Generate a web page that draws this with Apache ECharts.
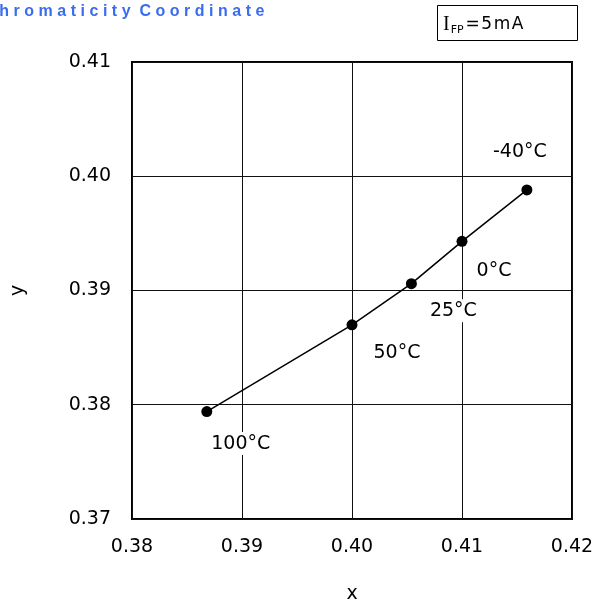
<!DOCTYPE html>
<html>
<head>
<meta charset="utf-8">
<style>html,body{margin:0;padding:0;background:#fff;}#c{width:592px;height:607px;}</style>
<script src="https://cdn.jsdelivr.net/npm/echarts@6/dist/echarts.min.js"></script>
</head>
<body>
<div id="c"></div>
<script>
// Data
var temperatures = ['100°C', '50°C', '25°C', '0°C', '-40°C'];
var xValues = [0.3868, 0.4000, 0.4054, 0.4100, 0.4159];
var yValues = [0.3794, 0.3870, 0.3906, 0.3943, 0.3988];
var xTicks = [0.38, 0.39, 0.40, 0.41, 0.42];
var yTicks = [0.37, 0.38, 0.39, 0.40, 0.41];
var titleText = 'Chromaticity Coordinate';
var conditionValue = '=5mA';

// label placement (layout, not data)
var labelOffsets = [[34, 32], [45, 28], [42, 27], [32, 30], [-7, -38]];

var FONT = 'DejaVu Sans';
var chart = echarts.init(document.getElementById('c'));

var points = xValues.map(function (x, i) {
  return {
    value: [x, yValues[i]],
    name: temperatures[i],
    label: { offset: labelOffsets[i] }
  };
});

// letter-spaced strings via rich text tokens
function spaced(str, style, spaceStyle) {
  return str.split('').map(function (ch) {
    return '{' + (ch === ' ' && spaceStyle ? spaceStyle : style) + '|' + ch + '}';
  }).join('');
}

chart.setOption({
  animation: false,
  backgroundColor: '#fff',
  grid: { left: 132, right: 20, top: 62, bottom: 88, show: true, borderColor: '#000', borderWidth: 2,
    backgroundColor: 'transparent', outerBoundsMode: 'none', containLabel: false },
  xAxis: {
    type: 'value', min: xTicks[0], max: xTicks[xTicks.length - 1], interval: 0.01,
    name: 'x', nameLocation: 'middle', nameGap: 66,
    nameTextStyle: { fontFamily: FONT, fontSize: 19, color: '#000' },
    axisLine: { show: false }, axisTick: { show: false },
    axisLabel: { margin: 19, fontFamily: FONT, fontSize: 19, color: '#000',
      formatter: function (v) { return v.toFixed(2); } },
    splitLine: { show: true, lineStyle: { color: '#111', width: 1 } }
  },
  yAxis: {
    type: 'value', min: yTicks[0], max: yTicks[yTicks.length - 1], interval: 0.01,
    name: 'y', nameLocation: 'middle', nameGap: 104, nameRotate: 90,
    nameTextStyle: { fontFamily: FONT, fontSize: 19, color: '#000' },
    axisLine: { show: false }, axisTick: { show: false },
    axisLabel: { margin: 21, fontFamily: FONT, fontSize: 19, color: '#000',
      formatter: function (v) { return v.toFixed(2); } },
    splitLine: { show: true, lineStyle: { color: '#111', width: 1 } }
  },
  graphic: [
    { type: 'text', x: -19, y: 4, z: 10,
      style: { text: spaced(titleText, 'c', 'sp'),
        rich: {
          c: { fontFamily: 'Liberation Sans', fontWeight: 'bold', fontSize: 16, fill: '#3a6cf0', padding: [0, 2.25] },
          sp: { fontFamily: 'Liberation Sans', fontWeight: 'bold', fontSize: 16, fill: '#3a6cf0', padding: [0, 0] }
        } } },
    { type: 'rect', shape: { x: 437.5, y: 5.5, width: 140, height: 35 }, z: 10,
      style: { fill: '#fff', stroke: '#000', lineWidth: 1 } },
    { type: 'text', x: 443, y: 25, z: 11,
      style: {
        text: '{i|I}{s|FP}' + spaced(conditionValue, 't'), verticalAlign: 'middle',
        rich: {
          i: { fontFamily: 'Liberation Serif', fontSize: 20, fill: '#000', padding: [0, 1, 0, 0] },
          s: { fontFamily: FONT, fontSize: 11, fill: '#000', padding: [10, 1, 0, 0] },
          t: { fontFamily: FONT, fontSize: 17, fill: '#000', padding: [0, 0.8] }
        }
      } }
  ],
  series: [
    {
      type: 'line', data: points, symbol: 'circle', symbolSize: 11,
      itemStyle: { color: '#000' },
      lineStyle: { color: '#000', width: 1.5 },
      label: {
        show: true, position: 'inside', formatter: '{b}',
        fontFamily: FONT, fontSize: 19, color: '#000',
        backgroundColor: '#fff', padding: [2, 3]
      },
      z: 5
    }
  ]
});
</script>
</body>
</html>
